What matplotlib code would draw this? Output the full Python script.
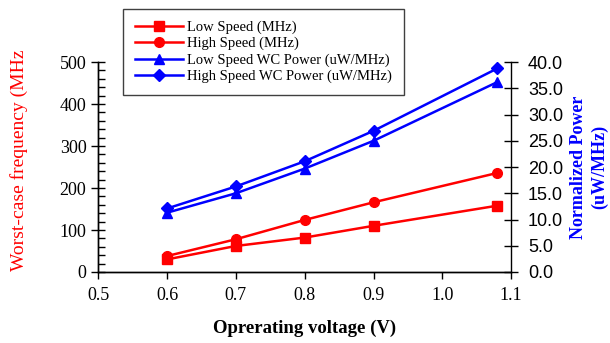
import matplotlib.pyplot as plt
from matplotlib.ticker import MultipleLocator, FormatStrFormatter

# Напряжение питания (В)
voltage = [0.6, 0.7, 0.8, 0.9, 1.08]

# Частота в худшем случае (МГц)
low_speed_mhz = [30, 62, 82, 110, 158]
high_speed_mhz = [38, 78, 124, 166, 236]

# Нормированная мощность (мкВт/МГц)
low_speed_power = [11.3, 15.0, 19.7, 25.0, 36.2]
high_speed_power = [12.1, 16.3, 21.1, 26.9, 38.8]

serif = 'Liberation Serif'
sans = 'Liberation Sans'

fig = plt.figure(figsize=(6.1, 3.43), dpi=100)
ax = fig.add_axes([0.161, 0.207, 0.677, 0.612])
ax2 = ax.twinx()

lw = 1.8
l1, = ax.plot(voltage, low_speed_mhz, color='#ff0000', marker='s', markersize=7,
              lw=lw, label='Low Speed (MHz)')
l2, = ax.plot(voltage, high_speed_mhz, color='#ff0000', marker='o', markersize=7,
              lw=lw, label='High Speed (MHz)')
l3, = ax2.plot(voltage, low_speed_power, color='#0000ff', marker='^', markersize=7,
               lw=lw, label='Low Speed WC Power (uW/MHz)')
l4, = ax2.plot(voltage, high_speed_power, color='#0000ff', marker='D', markersize=6.5,
               lw=lw, label='High Speed WC Power (uW/MHz)')

# Оси
ax.set_xlim(0.5, 1.1)
ax.set_ylim(0, 500)
ax2.set_ylim(0, 40)
ax.xaxis.set_major_locator(MultipleLocator(0.1))
ax.xaxis.set_major_formatter(FormatStrFormatter('%.1f'))
ax.yaxis.set_major_locator(MultipleLocator(100))
ax.yaxis.set_minor_locator(MultipleLocator(20))
ax2.yaxis.set_major_locator(MultipleLocator(5))
ax2.yaxis.set_major_formatter(FormatStrFormatter('%.1f'))

for a in (ax, ax2):
    a.spines['top'].set_visible(False)
    for s in a.spines.values():
        s.set_linewidth(1.0)
ax.spines['right'].set_visible(False)

ax.tick_params(axis='x', direction='out', length=5, width=1, labelsize=13, pad=6)
ax.tick_params(axis='y', which='major', direction='inout', length=10, width=1,
               labelsize=13)
ax.tick_params(axis='y', which='minor', direction='in', length=5, width=1)
ax2.tick_params(axis='y', which='major', direction='inout', length=10, width=1,
                labelsize=13, pad=7)

for lab in ax.get_xticklabels() + ax.get_yticklabels():
    lab.set_fontfamily(serif)
for lab in ax2.get_yticklabels():
    lab.set_fontfamily(sans)

ax.set_xlabel('Oprerating voltage (V)', fontsize=13.5, fontweight='bold',
              fontfamily=serif, labelpad=11)
ax.set_ylabel('Worst-case frequency (MHz', fontsize=14, color='#ff0000',
              fontfamily=serif)
ax.yaxis.set_label_coords(-0.17, 0.53)
ax2.set_ylabel('Normalized Power\n(uW/MHz)', fontsize=13, color='#0000ff',
               fontweight='bold', fontfamily=serif, labelpad=5,
               linespacing=1.3)

leg = fig.legend(handles=[l1, l2, l3, l4], loc='upper left',
                 bbox_to_anchor=(0.2016, 0.974), borderaxespad=0,
                 prop={'family': serif, 'size': 10.5},
                 handlelength=3.3, handletextpad=0.3, labelspacing=0.2,
                 borderpad=0.8, fancybox=False, framealpha=1)
leg.get_frame().set_edgecolor('#404040')
leg.get_frame().set_linewidth(1.0)

fig.savefig('out.png', dpi=100)
